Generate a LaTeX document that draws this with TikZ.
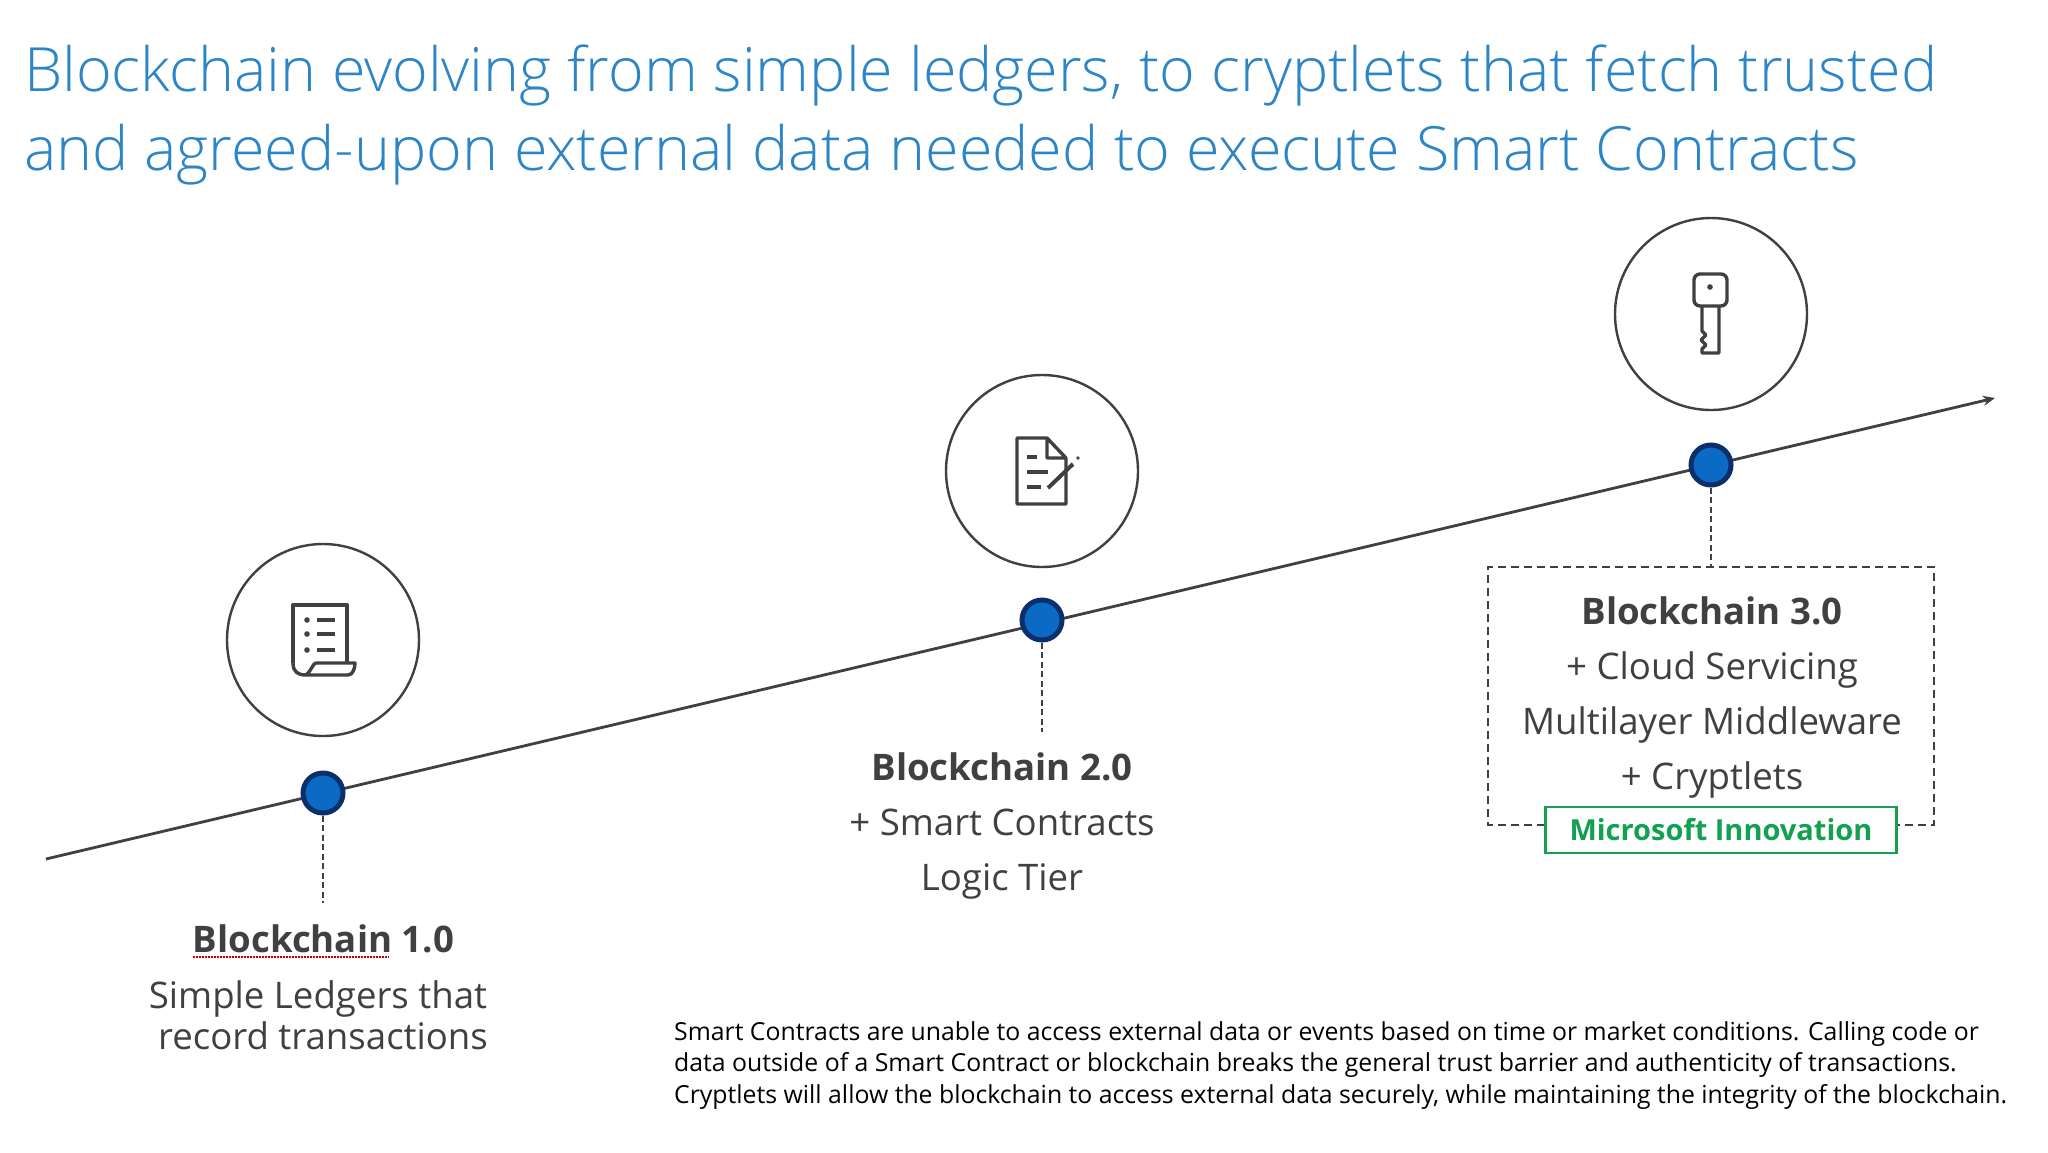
\documentclass[tikz,border=0pt]{standalone}
\usepackage{fontspec}
\setmainfont{Open Sans}
\newfontfamily\lightf{Open Sans Light}
\usetikzlibrary{arrows.meta}
\definecolor{ttl}{HTML}{2B85C6}
\definecolor{ink}{HTML}{404040}
\definecolor{iconc}{HTML}{404040}
\definecolor{dotf}{HTML}{0B6BC4}
\definecolor{dotd}{HTML}{0A2F6B}
\definecolor{msg}{HTML}{12A150}
\tikzset{
 x=1pt,y=-1pt,
 titletext/.style={anchor=base west,inner sep=0,text=ttl,font=\lightf\fontsize{61}{61}\selectfont},
 milestone/.style={anchor=base,inner sep=0,text=ink,align=center,font=\fontsize{36.6}{55}\selectfont},
 note/.style={anchor=base west,inner sep=0,text=black,font=\fontsize{24.8}{31.5}\selectfont,align=left},
 bubble/.style={circle,draw=ink,line width=2.4pt,minimum size=192pt,inner sep=0},
 dotnode/.style={circle,draw=dotd,fill=dotf,line width=5pt,minimum size=40pt,inner sep=0},
 timeline/.style={draw=ink,line width=2.8pt,-{Stealth[length=12pt,width=10pt]}},
 dashconn/.style={draw=ink,line width=2.8pt,dash pattern=on 6pt off 3.5pt},
 dashbox/.style={draw=ink,line width=2.6pt,dash pattern=on 8pt off 5pt},
 greenbox/.style={draw=msg,fill=white,line width=2.2pt,inner sep=0,text=msg,font=\bfseries\fontsize{29}{30}\selectfont},
 icon/.style={draw=iconc,line width=3.4pt,line join=round},
}
\begin{document}
\begin{tikzpicture}
\useasboundingbox (0,0) rectangle (2048,1152);
\fill[white] (0,0) rectangle (2048,1152);
\node[titletext] (t1) at (24,91) {Blockchain evolving from simple ledgers, to cryptlets that fetch trusted};
\node[titletext] (t2) at (24,170) {and agreed-upon external data needed to execute Smart Contracts};

\coordinate (ls) at (46,859);
\coordinate (le) at (1995,398);
\draw[timeline] (ls) -- (le);

\coordinate (e1) at (323,903);
\coordinate (e2) at (1042,732);
\coordinate (e3) at (1712,567);
\node[dotnode] (d1) at (323,793) {};
\node[dotnode] (d2) at (1042,620) {};
\node[dotnode] (d3) at (1711,465) {};
\draw[dashconn] (d1) -- (e1);
\draw[dashconn] (d2) -- (e2);
\draw[dashconn] (d3) -- (d3 |- e3);

\node[bubble] (c1) at (323,640) {};
\node[bubble] (c2) at (1042,471) {};
\node[bubble] (c3) at (1711,314) {};

% icon 1: ledger scroll
\draw[icon] (293,663) -- (293,605) -- (347,605) -- (347,662);
\draw[icon] (293,663) .. controls (293,672) and (298,675) .. (306,675) -- (348,675) .. controls (353,675) and (355,668) .. (355,663) -- (316,663) .. controls (313,663) and (312,670) .. (306,675);
\foreach \yy in {620,634,650}{
 \fill[iconc] (307,\yy) circle (2.8pt);
 \draw[icon] (317,\yy) -- (335,\yy);
}
% icon 2: contract with pen
\draw[icon] (1066,458) -- (1047,438) -- (1017,438) -- (1017,504) -- (1066,504) -- (1066,458) -- (1047,458) -- (1047,438);
\draw[icon] (1027,457) -- (1037,457);
\draw[icon] (1027,472) -- (1048,472);
\draw[icon] (1027,487) -- (1041,487);
\draw[icon,line width=4pt] (1048,488) -- (1073,464);
\fill[iconc] (1078,458) circle (1.8pt);
% icon 3: key
\draw[icon,rounded corners=6pt] (1694,274) rectangle (1727,306);
\fill[iconc] (1710,287) circle (2.8pt);
\draw[icon] (1702,306) -- (1702,331) -- (1706,335) -- (1701,340) -- (1706,345) -- (1702,349) -- (1702,353) -- (1719,353) -- (1719,306);

% dashed box
\draw[dashbox] (1545,825) -- (1488,825) -- (1488,567) -- (1934,567) -- (1934,825) -- (1897,825);
\node[greenbox,minimum width=351pt,minimum height=46pt] (ms) at (1721,830) {Microsoft Innovation};

\node[milestone] (b1) at (323.5,952) {\textbf{Blockchain 1.0}};
\node[milestone] (b1a) at (318,1008) {Simple Ledgers that};
\node[milestone] (b1b) at (323,1049) {record transactions};
\node[milestone] (b2) at (1002,890) {\textbf{Blockchain 2.0}\\+ Smart Contracts\\Logic Tier};
\node[milestone] (b3) at (1712,789) {\textbf{Blockchain 3.0}\\+ Cloud Servicing\\Multilayer Middleware\\+ Cryptlets};
\draw[red!75!black,line width=1.2pt,dash pattern=on 2pt off 1pt] (b1.base west) ++(0,5) -- ++(196,0);

\node[note] (n) at (674,1103) {Smart Contracts are unable to access external data or events based on time or market conditions. Calling code or\\data outside of a Smart Contract or blockchain breaks the general trust barrier and authenticity of transactions.\\Cryptlets will allow the blockchain to access external data securely, while maintaining the integrity of the blockchain.};
\end{tikzpicture}
\end{document}
